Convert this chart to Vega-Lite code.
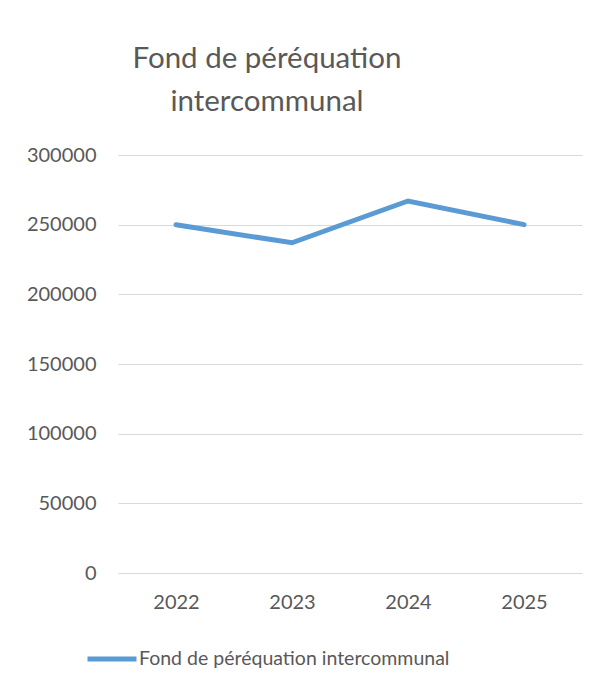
{
  "$schema": "https://vega.github.io/schema/vega-lite/v6.json",
  "autosize": "none",
  "width": 464,
  "height": 418,
  "padding": {"left": 118, "top": 155, "right": 22, "bottom": 115},
  "background": "white",
  "title": {
    "text": ["Fond de péréquation", "intercommunal"],
    "anchor": "middle",
    "frame": "group",
    "dx": -83,
    "fontSize": 29.5,
    "font": "Lato",
    "fontWeight": "normal",
    "color": "#595959",
    "lineHeight": 43,
    "offset": 28
  },
  "data": {
    "values": [
      {"year": "2022", "value": 250000, "series": "Fond de péréquation intercommunal"},
      {"year": "2023", "value": 237000, "series": "Fond de péréquation intercommunal"},
      {"year": "2024", "value": 267000, "series": "Fond de péréquation intercommunal"},
      {"year": "2025", "value": 250000, "series": "Fond de péréquation intercommunal"}
    ]
  },
  "mark": {"type": "line", "strokeWidth": 5, "strokeCap": "round", "strokeJoin": "miter"},
  "encoding": {
    "x": {
      "field": "year",
      "type": "ordinal",
      "title": null,
      "axis": {"labelAngle": 0, "domain": false, "ticks": false, "grid": false, "labelPadding": 19}
    },
    "y": {
      "field": "value",
      "type": "quantitative",
      "title": null,
      "scale": {"domain": [0, 300000], "nice": false},
      "axis": {"values": [0, 50000, 100000, 150000, 200000, 250000, 300000], "format": "d", "domain": false, "ticks": false, "grid": true, "labelPadding": 22}
    },
    "color": {
      "field": "series",
      "type": "nominal",
      "scale": {"range": ["#5B9BD5"]},
      "legend": {
        "title": null,
        "orient": "none",
        "legendX": -33,
        "legendY": 477,
        "symbolType": "stroke",
        "symbolSize": 2400,
        "symbolStrokeWidth": 5,
        "labelOffset": 0,
        "labelFontSize": 19.5,
        "labelFont": "Lato",
        "labelColor": "#595959",
        "labelLimit": 500
      }
    }
  },
  "config": {
    "view": {"stroke": null},
    "axis": {
      "labelFont": "Lato",
      "labelFontSize": 20,
      "labelColor": "#595959",
      "gridColor": "#D9D9D9",
      "gridWidth": 1
    }
  }
}
